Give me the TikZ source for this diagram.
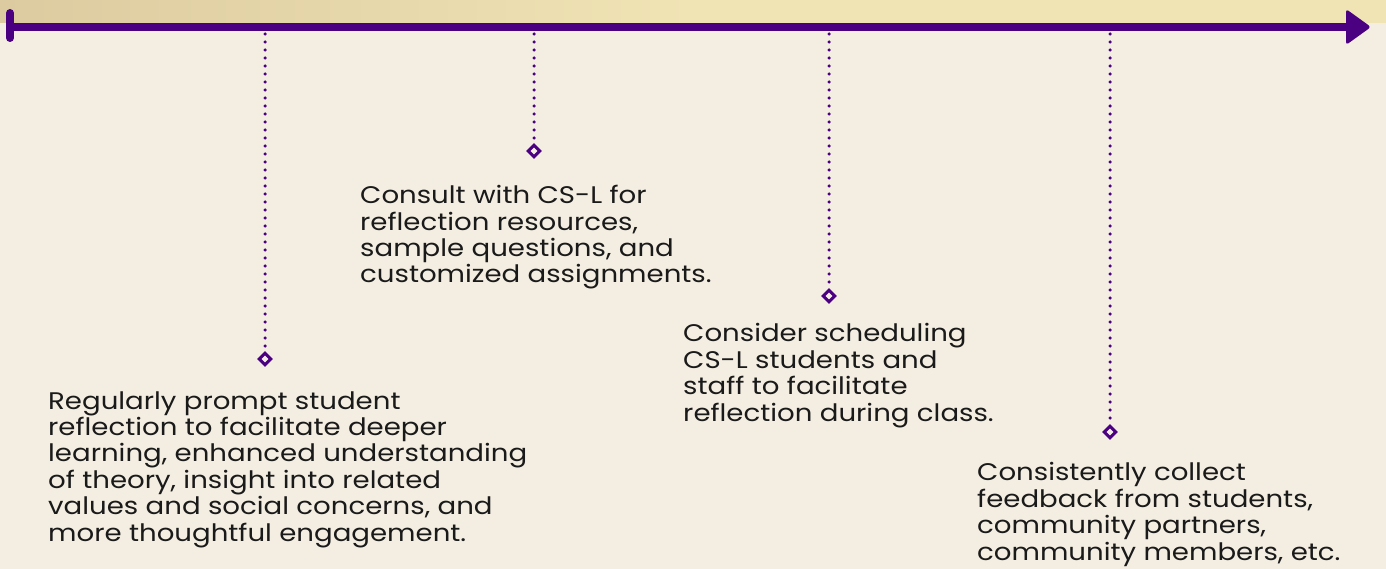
\documentclass[tikz,border=0pt]{standalone}
\usepackage{fontspec}
\setmainfont[FakeStretch=1.15]{Poppins}
\usetikzlibrary{arrows.meta}
\definecolor{bgc}{HTML}{F4EEE2}
\definecolor{bandL}{HTML}{DCCBA0}
\definecolor{bandR}{HTML}{F0E3B4}
\definecolor{purp}{HTML}{4B0082}
\definecolor{txt}{HTML}{1A1A1A}
\tikzset{
  dotline/.style={purp, line width=3.5pt, line cap=round, dash pattern=on 0pt off 8pt},
  marker/.style={draw=purp, fill=bgc, line width=3pt, minimum size=8pt, inner sep=0pt, rotate=45},
  note/.style={anchor=base west, align=left, inner sep=0pt, text=txt,
    font=\fontsize{24}{26.4}\selectfont},
}
\begin{document}
\begin{tikzpicture}[x=1pt,y=-1pt]
\useasboundingbox (0,0) rectangle (1386,569);
\fill[bgc] (0,0) rectangle (1386,569);
\shade[left color=bandL, right color=bandR, middle color=bandR] (0,0) rectangle (1386,23);
% axis
\coordinate (s) at (10,27);
\coordinate (e) at (1350,27);
\draw[purp, line width=8pt] (s) -- (e);
\draw[purp, line width=8pt, line cap=round] (10,13) -- (10,38);
\fill[purp, rounded corners=3pt] (1346,9) -- (1371,27) -- (1346,45) -- cycle;
% markers (top vertex of the rotated square is its north east anchor)
\foreach \n/\x/\y in {a/265/359, b/534/151, c/829/296, d/1110/432}{
  \coordinate (t\n) at (\x,34);
  \node[marker] (m\n) at (\x,\y) {};
  \draw[dotline] (t\n) -- ([yshift=4pt]m\n.north east);
}
% base anchor = baseline of the last line
\node[note] (n1) at (48,541) {Regularly prompt student\\reflection to facilitate deeper\\learning, enhanced understanding\\of theory, insight into related\\values and social concerns, and\\more thoughtful engagement.};
\node[note] (n2) at (360,283) {Consult with CS-L for\\reflection resources,\\sample questions, and\\customized assignments.};
\node[note] (n3) at (683,421) {Consider scheduling\\CS-L students and\\staff to facilitate\\reflection during class.};
\node[note] (n4) at (977,560) {Consistently collect\\feedback from students,\\community partners,\\community members, etc.};
\end{tikzpicture}
\end{document}
